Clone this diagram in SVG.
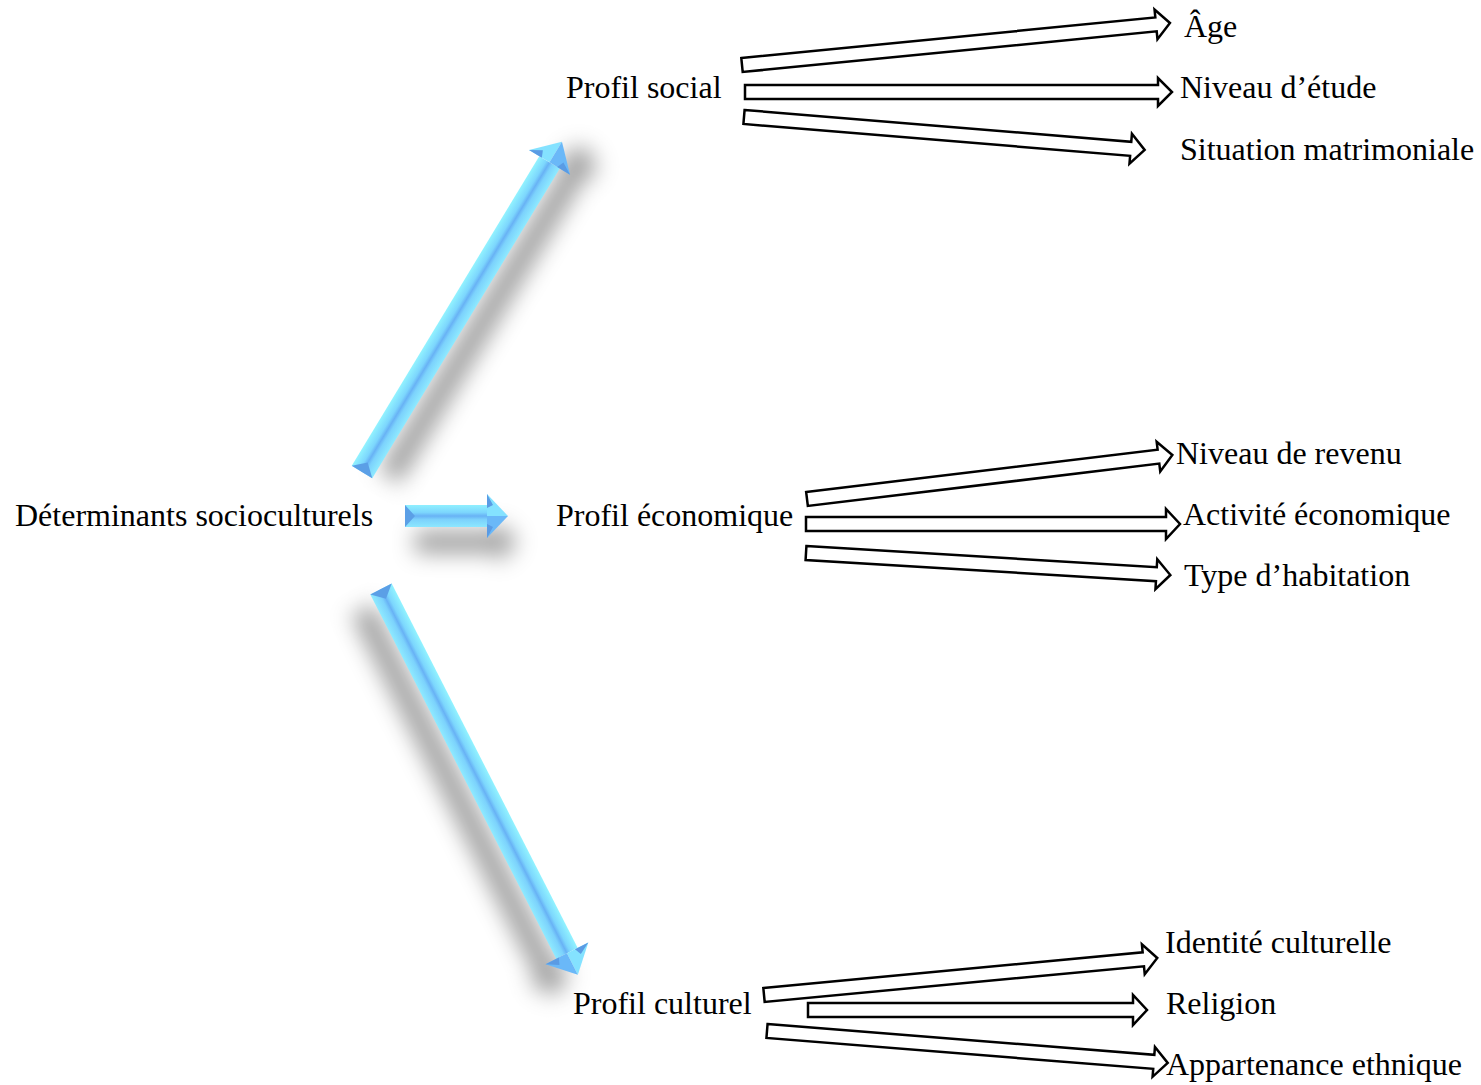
<svg xmlns="http://www.w3.org/2000/svg" width="1481" height="1085" viewBox="0 0 1481 1085">
<style>
  .t { font-family: "Liberation Serif", "Times New Roman", serif; font-size: 32px; fill: #000; }
  .ha { fill: #fff; stroke: #000; stroke-width: 2.5; stroke-linejoin: miter; }
  .tail { fill: #5b9fe6; }
  .hu { fill: #84e2ff; }
  .hl { fill: #6ab8f8; }
  .hd { fill: #5a9be4; }
</style>
<defs>
  <linearGradient id="shaft" gradientUnits="userSpaceOnUse" x1="0" y1="-12" x2="0" y2="12">
    <stop offset="0" stop-color="#92f3ff"/>
    <stop offset="0.35" stop-color="#7cd6fd"/>
    <stop offset="0.5" stop-color="#68b2f5"/>
    <stop offset="0.65" stop-color="#7cd2fc"/>
    <stop offset="1" stop-color="#8eeaff"/>
  </linearGradient>
  <filter id="shadow" filterUnits="userSpaceOnUse" x="-120" y="-120" width="720" height="340">
    <feGaussianBlur in="SourceAlpha" stdDeviation="11"/>
    <feOffset dx="10" dy="26" result="b"/>
    <feFlood flood-color="#000" flood-opacity="0.38"/>
    <feComposite in2="b" operator="in"/>
  </filter>
</defs>
<rect width="1481" height="1085" fill="#fff"/>

<g id="connectors">
  <!-- blue arrows -->
  <g id="blue-up" transform="translate(362,472) rotate(-58.8)">
    <g filter="url(#shadow)"><rect x="0" y="-12" width="362" height="24"/><polygon points="362,-24 386,0 362,24"/></g>
    <rect x="0" y="-12" width="362" height="24" fill="url(#shaft)"/>
    <polygon class="tail" points="0,-12 0,12 11,0"/>
    <polygon class="hu" points="362,-24 386,0 362,0"/>
    <polygon class="hl" points="362,0 386,0 362,24"/>
    <polygon class="hd" points="362,-24 369,-12 362,-9"/>
    <polygon class="hd" points="362,24 369,12 362,9"/>
  </g>
  <g id="blue-right" transform="translate(405,516)">
    <g filter="url(#shadow)"><rect x="0" y="-11" width="82" height="22"/><polygon points="82,-22 103,0 82,22"/></g>
    <rect x="0" y="-11" width="82" height="22" fill="url(#shaft)"/>
    <polygon class="tail" points="0,-11 0,11 10,0"/>
    <polygon class="hu" points="82,-22 103,0 82,0"/>
    <polygon class="hl" points="82,0 103,0 82,22"/>
    <polygon class="hd" points="82,-22 88,-11 82,-8"/>
    <polygon class="hd" points="82,22 88,11 82,8"/>
  </g>
  <g id="blue-down" transform="translate(381,589) rotate(62.96)">
    <g filter="url(#shadow)"><rect x="0" y="-12" width="409" height="24"/><polygon points="409,-24 433,0 409,24"/></g>
    <rect x="0" y="-12" width="409" height="24" fill="url(#shaft)"/>
    <polygon class="tail" points="0,-12 0,12 11,0"/>
    <polygon class="hu" points="409,-24 433,0 409,0"/>
    <polygon class="hl" points="409,0 433,0 409,24"/>
    <polygon class="hd" points="409,-24 416,-12 409,-9"/>
    <polygon class="hd" points="409,24 416,12 409,9"/>
  </g>

  <!-- hollow arrows: social -->
  <path class="ha" transform="translate(742,65) rotate(-5.6)" d="M0,-7 L416,-7 L416,-15 L430,0 L416,15 L416,7 L0,7 Z"/>
  <path class="ha" transform="translate(745,92)" d="M0,-7 L413,-7 L413,-14 L427,0 L413,14 L413,7 L0,7 Z"/>
  <path class="ha" transform="translate(744,117) rotate(4.7)" d="M0,-7 L388,-7 L388,-15 L402,0 L388,15 L388,7 L0,7 Z"/>
  <!-- economique -->
  <path class="ha" transform="translate(807,499) rotate(-6.87)" d="M0,-7 L354,-7 L354,-15 L368,0 L354,15 L354,7 L0,7 Z"/>
  <path class="ha" transform="translate(806,524)" d="M0,-7 L360,-7 L360,-15 L374,0 L360,15 L360,7 L0,7 Z"/>
  <path class="ha" transform="translate(806,553) rotate(3.46)" d="M0,-7 L351,-7 L351,-15 L365,0 L351,15 L351,7 L0,7 Z"/>
  <!-- culturel -->
  <path class="ha" transform="translate(764,995) rotate(-5.38)" d="M0,-7 L381,-7 L381,-15 L395,0 L381,15 L381,7 L0,7 Z"/>
  <path class="ha" transform="translate(808,1010)" d="M0,-7 L325,-7 L325,-15 L339,0 L325,15 L325,7 L0,7 Z"/>
  <path class="ha" transform="translate(767,1031) rotate(4.56)" d="M0,-7 L388,-7 L388,-15 L402,0 L388,15 L388,7 L0,7 Z"/>
</g>

<g id="node-determinants"><text class="t" x="15" y="526">Déterminants socioculturels</text></g>
<g id="node-profil-social"><text class="t" x="566" y="98">Profil social</text></g>
<g id="node-profil-economique"><text class="t" x="556" y="526">Profil économique</text></g>
<g id="node-profil-culturel"><text class="t" x="573" y="1014">Profil culturel</text></g>
<g id="node-age"><text class="t" x="1184" y="37">Âge</text></g>
<g id="node-niveau-etude"><text class="t" x="1180" y="98">Niveau d’étude</text></g>
<g id="node-situation"><text class="t" x="1180" y="160">Situation matrimoniale</text></g>
<g id="node-revenu"><text class="t" x="1176" y="464">Niveau de revenu</text></g>
<g id="node-activite"><text class="t" x="1183" y="525">Activité économique</text></g>
<g id="node-habitation"><text class="t" x="1184" y="586">Type d’habitation</text></g>
<g id="node-identite"><text class="t" x="1165" y="953">Identité culturelle</text></g>
<g id="node-religion"><text class="t" x="1166" y="1014">Religion</text></g>
<g id="node-ethnique"><text class="t" x="1166" y="1075">Appartenance ethnique</text></g>
</svg>
